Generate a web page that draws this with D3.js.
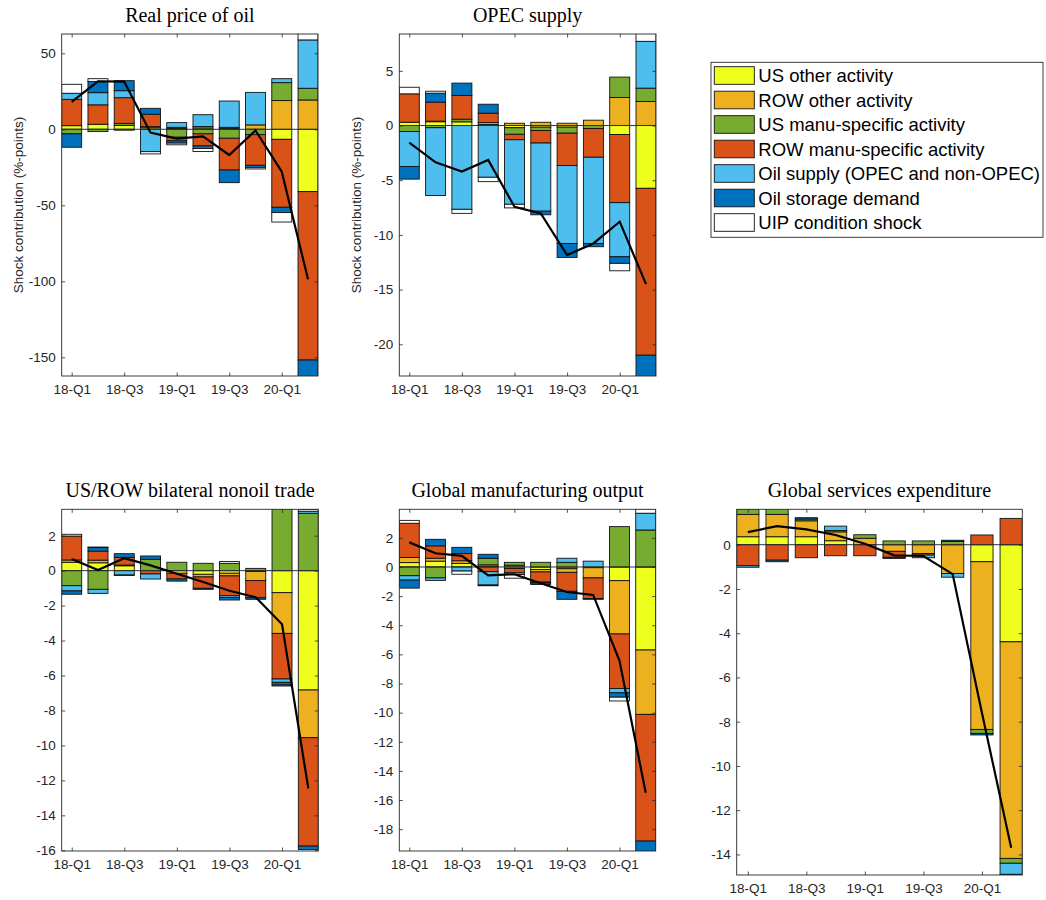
<!DOCTYPE html>
<html><head><meta charset="utf-8">
<script src="https://cdn.jsdelivr.net/npm/d3@7"></script>
<style>body{margin:0;background:#fff}svg{display:block}</style>
</head><body>
<svg id="chart" width="1046" height="900"></svg>
<script>
// ---------- DATA ----------
const quarters = ["18-Q1","18-Q2","18-Q3","18-Q4","19-Q1","19-Q2","19-Q3","19-Q4","20-Q1","20-Q2"];
const xTickLabels = ["18-Q1","18-Q3","19-Q1","19-Q3","20-Q1"];
const seriesNames = ["US other activity","ROW other activity","US manu-specific activity","ROW manu-specific activity","Oil supply (OPEC and non-OPEC)","Oil storage demand","UIP condition shock"];

// Real price of oil
const oil_usOther   = [2.4, 3.3, 2.6, 1.0, 0.5, 0.9, 0.5, 0, -6.6, -41];
const oil_rowOther  = [0, 0, 0, 0.75, 0.8, 0.9, 0.8, 2.9, 18.9, 19.3];
const oil_usManu    = [-3, -1.5, 1.3, 0, -5.2, -3, -5.9, -3.5, 11.8, 7.7];
const oil_rowManu   = [17.3, 12.8, 16.9, 8.15, -2.4, -7.9, -20.9, -20.2, -44.7, -110.8];
const oil_oilSupply = [4, 8, 4.6, -14.7, 3.1, 7.8, 17.3, 21.4, 2.6, 31.8];
const oil_storage   = [-8.8, 7.4, 6.6, 3.9, -1.5, -1.7, -8.3, -1.5, -3.5, -15];
const oil_uip       = [5.9, 1.8, -0.6, -1.5, -1.1, -2.0, 0, -0.9, -6.2, 9.8];
const oil_actual    = [18, 31.6, 31.4, -2.2, -6.1, -4.6, -16.9, -0.7, -27.9, -98.7];
const oil_yTicks    = [-150, -100, -50, 0, 50];

// OPEC supply
const opec_usOther   = [0.3, 0.35, 0.34, 0.1, -0.2, -0.15, -0.15, 0, -0.82, -5.74];
const opec_rowOther  = [0, 0.05, 0, 0.17, 0.21, 0.3, 0.21, 0.49, 2.56, 2.2];
const opec_usManu    = [-0.55, -0.2, 0.24, 0, -0.6, -0.3, -0.55, -0.27, 1.87, 1.22];
const opec_rowManu   = [2.6, 1.74, 2.17, 0.86, -0.5, -1.15, -2.96, -2.63, -6.23, -15.26];
const opec_oilSupply = [-3.2, -6.2, -7.66, -4.73, -5.9, -6.23, -7.12, -7.88, -4.95, 4.28];
const opec_storage   = [-1.15, 0.82, 1.13, 0.82, 0, -0.33, -1.28, -0.3, -0.6, -2.5];
const opec_uip       = [0.6, 0.18, -0.37, -0.4, -0.33, 0, 0, 0, -0.68, 1.3];
const opec_actual    = [-1.56, -3.36, -4.21, -3.14, -7.42, -8.03, -11.84, -10.78, -8.79, -14.5];
const opec_yTicks    = [-20, -15, -10, -5, 0, 5];

// US/ROW bilateral nonoil trade
const trade_usOther   = [0.48, 0.45, 0.28, 0, -0.15, -0.21, -0.15, -0.05, -1.26, -6.83];
const trade_rowOther  = [0.13, 0.15, 0.04, 0, 0, -0.15, -0.15, -0.52, -2.33, -2.73];
const trade_usManu    = [-0.86, -1.07, 0, 0.65, 0.48, 0.42, 0.42, 0.13, 3.6, 3.28];
const trade_rowManu   = [1.37, 0.52, 0.44, -0.19, -0.33, -0.65, -1.13, -0.98, -2.61, -6.2];
const trade_oilSupply = [-0.3, -0.23, -0.25, -0.29, 0, 0, -0.1, 0, -0.19, 0.12];
const trade_storage   = [-0.19, 0.2, 0.21, 0.19, -0.12, -0.06, -0.15, -0.09, -0.15, -0.2];
const trade_uip       = [0.1, 0.03, -0.03, 0, 0, 0, 0.1, 0, -0.06, 0.1];
const trade_actual    = [0.67, 0.04, 0.71, 0.3, -0.18, -0.65, -1.15, -1.52, -3.07, -12.46];
const trade_yTicks    = [-16, -14, -12, -10, -8, -6, -4, -2, 0, 2];

// Global manufacturing output
const manu_usOther   = [0.3, 0.4, 0.25, 0.05, 0.12, -0.17, -0.12, -0.05, -0.94, -5.7];
const manu_rowOther  = [0.35, 0.2, 0.18, 0.1, -0.1, -0.17, -0.25, -0.7, -3.66, -4.42];
const manu_usManu    = [-0.6, -0.75, 0, 0.45, 0.2, 0.32, 0.32, 0, 2.77, 2.54];
const manu_rowManu   = [2.35, 0.85, 0.5, -0.32, -0.3, -0.7, -1.3, -1.42, -3.74, -8.7];
const manu_oilSupply = [-0.3, -0.17, -0.28, -0.92, -0.12, -0.06, 0.28, 0.4, -0.3, 1.15];
const manu_storage   = [-0.55, 0.45, 0.42, 0.27, 0, -0.1, -0.55, -0.05, -0.3, -1.0];
const manu_uip       = [0.2, 0, -0.22, -0.05, -0.25, 0, 0, 0, -0.26, 0.3];
const manu_actual    = [1.69, 0.94, 0.76, -0.57, -0.5, -1.12, -1.72, -1.92, -6.43, -15.5];
const manu_yTicks    = [-18, -16, -14, -12, -10, -8, -6, -4, -2, 0, 2];

// Global services expenditure
const serv_usOther   = [0.36, 0.36, 0.36, 0.18, 0, 0, 0, 0, -0.77, -4.39];
const serv_rowOther  = [1.01, 1.01, 0.72, 0.4, 0.29, -0.3, -0.4, -1.3, -7.58, -9.79];
const serv_usManu    = [0.25, 0.3, 0.08, 0.06, 0.16, 0.17, 0.17, 0.15, -0.18, -0.22];
const serv_rowManu   = [-0.95, -0.7, -0.59, -0.5, -0.5, -0.27, -0.07, 0, 0.44, 1.19];
const serv_oilSupply = [-0.07, 0, 0, 0.2, 0, 0, -0.12, -0.17, 0, -0.5];
const serv_storage   = [0, -0.07, 0.06, 0, 0, -0.05, 0, 0.05, -0.07, -0.05];
const serv_uip       = [0, 0, 0, 0, 0, 0, 0, 0, 0, 0];
const serv_actual    = [0.57, 0.84, 0.69, 0.44, 0.04, -0.48, -0.51, -1.33, -7.6, -13.7];
const serv_yTicks    = [-14, -12, -10, -8, -6, -4, -2, 0];

// ---------- STYLE / LAYOUT ----------
const colors = ["#eeff1e","#EDB120","#77AC30","#D95319","#4DBEEE","#0072BD","#ffffff"];
const panels = [
  {title:"Real price of oil", series:[oil_usOther,oil_rowOther,oil_usManu,oil_rowManu,oil_oilSupply,oil_storage,oil_uip], actual:oil_actual, yTicks:oil_yTicks,
   x0:61.7, x1:318, y0:34, y1:376, yDom:[-162.3,62.7], ylabel:true, titleY:21.5},
  {title:"OPEC supply", series:[opec_usOther,opec_rowOther,opec_usManu,opec_rowManu,opec_oilSupply,opec_storage,opec_uip], actual:opec_actual, yTicks:opec_yTicks,
   x0:399.3, x1:656, y0:34, y1:376, yDom:[-22.9,8.37], ylabel:true, titleY:21.5},
  {title:"US/ROW bilateral nonoil trade", series:[trade_usOther,trade_rowOther,trade_usManu,trade_rowManu,trade_oilSupply,trade_storage,trade_uip], actual:trade_actual, yTicks:trade_yTicks,
   x0:61.7, x1:318.3, y0:509.3, y1:851, yDom:[-16.04,3.51], ylabel:false, titleY:496.7},
  {title:"Global manufacturing output", series:[manu_usOther,manu_rowOther,manu_usManu,manu_rowManu,manu_oilSupply,manu_storage,manu_uip], actual:manu_actual, yTicks:manu_yTicks,
   x0:399.3, x1:655.7, y0:509.3, y1:851, yDom:[-19.5,3.96], ylabel:false, titleY:496.7},
  {title:"Global services expenditure", series:[serv_usOther,serv_rowOther,serv_usManu,serv_rowManu,serv_oilSupply,serv_storage,serv_uip], actual:serv_actual, yTicks:serv_yTicks,
   x0:736.7, x1:1022.3, y0:509.3, y1:875, yDom:[-14.93,1.6], ylabel:false, titleY:496.7}
];

const svg = d3.select("#chart");
const barW = 0.76;
const axisColor = "#262626";
const tickFont = "Liberation Sans, Arial, Helvetica, sans-serif";

panels.forEach((p, pi) => {
  const x = d3.scaleLinear().domain([-barW/2, quarters.length - 1 + barW/2]).range([p.x0, p.x1]);
  const y = d3.scaleLinear().domain(p.yDom).range([p.y1, p.y0]);
  const g = svg.append("g");
  const clipId = "clip" + pi;
  svg.append("clipPath").attr("id", clipId).append("rect")
    .attr("x", p.x0).attr("y", p.y0).attr("width", p.x1 - p.x0).attr("height", p.y1 - p.y0);

  // stacked segments
  const segs = [];
  quarters.forEach((q, i) => {
    let pos = 0, neg = 0;
    p.series.forEach((arr, si) => {
      const v = arr[i];
      if (!v) return;
      let a, b;
      if (v > 0) { a = pos; b = pos + v; pos = b; } else { a = neg; b = neg + v; neg = b; }
      segs.push({i, si, a, b});
    });
  });
  const bars = g.append("g").attr("clip-path", `url(#${clipId})`);
  bars.selectAll("rect").data(segs).join("rect")
    .attr("x", d => x(d.i - barW/2))
    .attr("width", d => x(barW) - x(0))
    .attr("y", d => y(Math.max(d.a, d.b)))
    .attr("height", d => Math.abs(y(d.a) - y(d.b)))
    .attr("fill", d => colors[d.si])
    .attr("stroke", "#111").attr("stroke-width", 0.9);

  // zero line
  g.append("line").attr("x1", p.x0).attr("x2", p.x1).attr("y1", y(0)).attr("y2", y(0))
    .attr("stroke", "#333").attr("stroke-width", 1);

  // actual line
  const line = d3.line().x((d, i) => x(i)).y(d => y(d));
  g.append("path").datum(p.actual).attr("d", line).attr("fill", "none")
    .attr("stroke", "#000").attr("stroke-width", 2.2).attr("clip-path", `url(#${clipId})`);

  // axes (bottom, left, plus top/right ticks inside)
  const tl = 3.5;
  const xTickVals = xTickLabels.map(l => quarters.indexOf(l));
  const xAxisB = d3.axisBottom(x).tickValues(xTickVals).tickFormat(d => quarters[d]).tickSizeInner(-tl).tickSizeOuter(0).tickPadding(8);
  const xAxisT = d3.axisTop(x).tickValues(xTickVals).tickFormat("").tickSizeInner(-tl).tickSizeOuter(0);
  const yAxisL = d3.axisLeft(y).tickValues(p.yTicks).tickFormat(d => d3.format("d")(d).replace("−","-")).tickSizeInner(-tl).tickSizeOuter(0).tickPadding(6);
  const yAxisR = d3.axisRight(y).tickValues(p.yTicks).tickFormat("").tickSizeInner(-tl).tickSizeOuter(0);
  const axes = [
    g.append("g").attr("transform", `translate(0,${p.y1})`).call(xAxisB),
    g.append("g").attr("transform", `translate(0,${p.y0})`).call(xAxisT),
    g.append("g").attr("transform", `translate(${p.x0},0)`).call(yAxisL),
    g.append("g").attr("transform", `translate(${p.x1},0)`).call(yAxisR)
  ];
  axes.forEach(a => {
    a.select(".domain").remove();
    a.selectAll("line").attr("stroke", axisColor).attr("stroke-width", 0.8);
    a.selectAll("text").attr("fill", axisColor).attr("font-family", tickFont).attr("font-size", 13.5);
  });
  g.append("rect").attr("x", p.x0).attr("y", p.y0).attr("width", p.x1 - p.x0).attr("height", p.y1 - p.y0)
    .attr("fill", "none").attr("stroke", axisColor).attr("stroke-width", 0.9);

  // title
  svg.append("text").attr("x", (p.x0 + p.x1) / 2).attr("y", p.titleY)
    .attr("text-anchor", "middle").attr("font-family", "Liberation Serif, Times New Roman, serif")
    .attr("font-size", 20).attr("fill", "#000").text(p.title);

  if (p.ylabel) {
    const cy = (p.y0 + p.y1) / 2, cx = p.x0 - 43;
    svg.append("text").attr("transform", `translate(${cx},${cy}) rotate(-90)`)
      .attr("text-anchor", "middle").attr("dominant-baseline", "central")
      .attr("font-family", tickFont).attr("font-size", 13.5).attr("fill", axisColor)
      .text("Shock contribution (%-points)");
  }
});

// legend
const lg = svg.append("g");
lg.append("rect").attr("x", 711).attr("y", 62.3).attr("width", 332).attr("height", 175)
  .attr("fill", "#fff").attr("stroke", axisColor).attr("stroke-width", 0.9);
seriesNames.forEach((name, i) => {
  const cy = 75.5 + i * 24.5;
  lg.append("rect").attr("x", 714.3).attr("y", cy - 8.8).attr("width", 40).attr("height", 17.6)
    .attr("fill", colors[i]).attr("stroke", "#111").attr("stroke-width", 0.9);
  lg.append("text").attr("x", 758.3).attr("y", cy).attr("dominant-baseline", "central")
    .attr("font-family", tickFont).attr("font-size", 18.5).attr("fill", "#000").text(name);
});
</script>
</body></html>
